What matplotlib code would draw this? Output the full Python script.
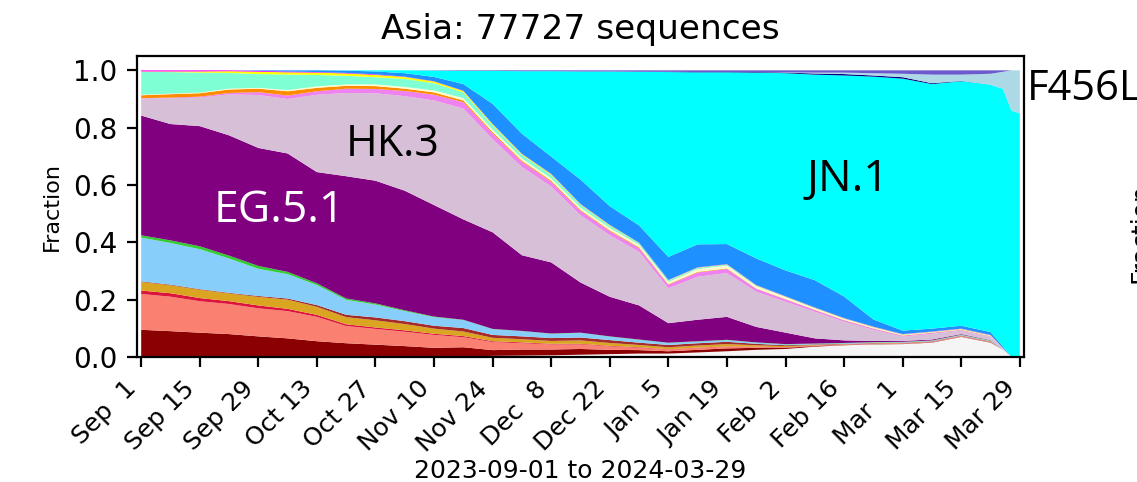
import numpy as np
import pandas as pd
import matplotlib
matplotlib.use("Agg")
import matplotlib.pyplot as plt
import matplotlib.dates as mdates

# -- DATA (fractions, weekly + a few points at the end) --
dates = list(pd.date_range("2023-09-01", "2024-03-22", freq="7D")) + \
    [pd.Timestamp("2024-03-25"), pd.Timestamp("2024-03-27"), pd.Timestamp("2024-03-29")]

other = [0.002, 0.002, 0.002, 0.002, 0.002, 0.002, 0.002, 0.002, 0.002, 0.002, 0.002, 0.002, 0.004, 0.005, 0.006, 0.008,
         0.010, 0.012, 0.012, 0.016, 0.020, 0.025, 0.028, 0.036, 0.041, 0.044, 0.045, 0.050, 0.070, 0.050, 0.025, 0.0, 0.0]
darkred = [0.093, 0.088, 0.083, 0.078, 0.070, 0.063, 0.053, 0.046, 0.041, 0.036, 0.030, 0.032, 0.020, 0.021, 0.020, 0.020,
           0.015, 0.012, 0.008, 0.009, 0.010, 0.007, 0.004, 0.002, 0.001, 0.001, 0.001, 0.001, 0.001, 0.001, 0, 0, 0]
salmon = [0.125, 0.120, 0.110, 0.105, 0.098, 0.095, 0.085, 0.060, 0.055, 0.050, 0.045, 0.035, 0.028, 0.022, 0.018, 0.016,
          0.012, 0.008, 0.006, 0.007, 0.006, 0.003, 0.001, 0.001, 0.001, 0.001, 0.001, 0.001, 0.001, 0.001, 0, 0, 0]
crimson = [0.012, 0.012, 0.011, 0.010, 0.010, 0.008, 0.007, 0.006, 0.005, 0.005, 0.004, 0.004, 0.003, 0.003, 0.002, 0.002,
           0.002, 0.002, 0.001, 0.001, 0.001, 0.001, 0.001, 0.001, 0.001, 0.001, 0.001, 0.001, 0.001, 0.001, 0, 0, 0]
goldenrod = [0.030, 0.028, 0.029, 0.027, 0.030, 0.032, 0.028, 0.025, 0.025, 0.022, 0.018, 0.016, 0.012, 0.011, 0.010, 0.012,
             0.010, 0.008, 0.007, 0.007, 0.008, 0.005, 0.004, 0.002, 0.001, 0.001, 0.001, 0.001, 0.001, 0.001, 0, 0, 0]
brown = [0.002, 0.002, 0.002, 0.002, 0.003, 0.004, 0.006, 0.008, 0.010, 0.010, 0.010, 0.012, 0.010, 0.010, 0.010, 0.010,
         0.010, 0.008, 0.008, 0.008, 0.008, 0.005, 0.003, 0.002, 0.001, 0.001, 0.001, 0.001, 0.001, 0.001, 0, 0, 0]
skyblue = [0.153, 0.145, 0.140, 0.120, 0.095, 0.085, 0.070, 0.052, 0.045, 0.035, 0.030, 0.028, 0.020, 0.018, 0.015, 0.016,
           0.012, 0.010, 0.007, 0.006, 0.006, 0.004, 0.003, 0.002, 0.002, 0.002, 0.002, 0.002, 0.002, 0.002, 0.001, 0, 0]
limegreen = [0.008, 0.009, 0.010, 0.010, 0.010, 0.008, 0.006, 0.005, 0.004, 0.003, 0.002, 0.001, 0.001, 0.001, 0.001, 0.001,
             0.001, 0.001, 0.001, 0.001, 0.001, 0.001, 0.001, 0.001, 0.001, 0.001, 0.001, 0.001, 0.001, 0.001, 0, 0, 0]
eg51 = [0.418, 0.405, 0.420, 0.420, 0.412, 0.413, 0.388, 0.426, 0.428, 0.417, 0.389, 0.350, 0.337, 0.264, 0.248, 0.175,
        0.138, 0.119, 0.068, 0.075, 0.080, 0.054, 0.040, 0.018, 0.009, 0.004, 0.003, 0.003, 0.002, 0.001, 0, 0, 0]
hk3 = [0.060, 0.090, 0.100, 0.143, 0.185, 0.190, 0.270, 0.290, 0.305, 0.330, 0.365, 0.387, 0.325, 0.308, 0.265, 0.235,
       0.215, 0.187, 0.122, 0.150, 0.153, 0.123, 0.108, 0.093, 0.065, 0.039, 0.015, 0.020, 0.012, 0.012, 0.005, 0, 0]
violet = [0.001, 0.002, 0.003, 0.005, 0.010, 0.012, 0.012, 0.015, 0.015, 0.018, 0.020, 0.022, 0.020, 0.018, 0.016, 0.015,
          0.014, 0.013, 0.012, 0.015, 0.014, 0.010, 0.008, 0.006, 0.005, 0.004, 0.003, 0.003, 0.002, 0.001, 0, 0, 0]
darkorange = [0.010, 0.012, 0.012, 0.012, 0.012, 0.015, 0.012, 0.010, 0.010, 0.008, 0.008, 0.006, 0.005, 0.004, 0.004, 0.003,
              0.003, 0.003, 0.002, 0.002, 0.002, 0.001, 0.001, 0.001, 0.001, 0.001, 0.001, 0.001, 0.001, 0.001, 0, 0, 0]
lemon = [0.002, 0.002, 0.002, 0.003, 0.003, 0.004, 0.005, 0.005, 0.006, 0.006, 0.007, 0.008, 0.008, 0.008, 0.008, 0.008,
         0.008, 0.008, 0.008, 0.010, 0.010, 0.008, 0.007, 0.005, 0.004, 0.003, 0.002, 0.001, 0.001, 0.001, 0, 0, 0]
aquamarine = [0.080, 0.075, 0.070, 0.055, 0.048, 0.054, 0.040, 0.030, 0.025, 0.028, 0.025, 0.020, 0.015, 0.012, 0.012, 0.010,
              0.008, 0.006, 0.005, 0.004, 0.003, 0.002, 0.001, 0.001, 0.001, 0.001, 0.001, 0.001, 0.001, 0.001, 0, 0, 0]
yellow = [0.001, 0.002, 0.004, 0.006, 0.008, 0.008, 0.008, 0.008, 0.008, 0.007, 0.006, 0.005, 0.004, 0.003, 0.003, 0.002,
          0.002, 0.001, 0.001, 0.001, 0.001, 0.001, 0.001, 0.001, 0.001, 0.001, 0.001, 0.001, 0.001, 0.001, 0, 0, 0]
magenta = [0.004, 0.004, 0.004, 0.003, 0.003, 0.003, 0.002, 0.002, 0.002, 0.001, 0.001, 0.001, 0.001, 0.001, 0.001, 0.001,
           0.001, 0.001, 0.001, 0.001, 0.001, 0.001, 0.001, 0.001, 0.001, 0.001, 0.001, 0.001, 0.001, 0.001, 0, 0, 0]
dodgerblue = [0, 0, 0, 0, 0.002, 0.004, 0.006, 0.008, 0.010, 0.012, 0.015, 0.023, 0.070, 0.070, 0.060, 0.085,
              0.065, 0.060, 0.080, 0.080, 0.070, 0.093, 0.090, 0.095, 0.075, 0.025, 0.012, 0.010, 0.010, 0.010, 0.005, 0, 0]
jn1 = [0, 0, 0, 0, 0, 0, 0, 0.001, 0.004, 0.010, 0.022, 0.046, 0.115, 0.218, 0.298, 0.377,
       0.470, 0.536, 0.645, 0.600, 0.599, 0.648, 0.688, 0.717, 0.771, 0.847, 0.879, 0.853, 0.853, 0.863, 0.899, 0.86, 0.85]
navy = [0, 0, 0, 0, 0, 0, 0, 0, 0, 0, 0, 0, 0, 0, 0, 0,
        0, 0, 0.001, 0.001, 0.001, 0.002, 0.002, 0.004, 0.005, 0.004, 0.005, 0.003, 0.001, 0, 0, 0, 0]
lightblue = [0, 0, 0, 0, 0, 0, 0, 0, 0, 0, 0, 0, 0, 0, 0, 0,
             0, 0, 0, 0, 0, 0, 0.001, 0.003, 0.005, 0.008, 0.012, 0.030, 0.022, 0.038, 0.060, 0.14, 0.15]
slateblue = [0, 0, 0, 0, 0, 0, 0, 0, 0, 0, 0.001, 0.002, 0.002, 0.003, 0.003, 0.004,
             0.004, 0.005, 0.005, 0.006, 0.006, 0.006, 0.007, 0.008, 0.008, 0.010, 0.012, 0.015, 0.015, 0.012, 0.005, 0, 0]

layers = [other, darkred, salmon, crimson, goldenrod, brown, skyblue, limegreen, eg51, hk3,
          violet, darkorange, lemon, aquamarine, yellow, magenta, dodgerblue, jn1, navy, lightblue, slateblue]
colors = ["whitesmoke", "darkred", "salmon", "crimson", "goldenrod", "brown", "lightskyblue", "limegreen",
          "purple", "thistle", "violet", "darkorange", "lemonchiffon", "aquamarine", "yellow", "magenta",
          "dodgerblue", "cyan", "navy", "lightblue", "slateblue"]

fractions = np.array(layers, dtype=float)
fractions = fractions / fractions.sum(axis=0)  # make each day sum to 1

fig = plt.figure(figsize=(1137 / 200, 482 / 200), dpi=200)
ax = fig.add_axes([137 / 1137, 1 - 357 / 482, 887 / 1137, 301 / 482])

ax.stackplot(dates, fractions, colors=colors, linewidth=0)

ax.set_xlim(pd.Timestamp("2023-08-31"), pd.Timestamp("2024-03-30"))
ax.set_ylim(0, 1.05)
ax.set_yticks([0, 0.2, 0.4, 0.6, 0.8, 1.0])
ax.set_xticks(pd.date_range("2023-09-01", "2024-03-29", freq="14D"))
ax.xaxis.set_major_formatter(mdates.DateFormatter("%b %e"))
plt.setp(ax.get_xticklabels(), rotation=45, ha="right")
ax.tick_params(axis="y", labelsize=10)
ax.tick_params(axis="x", labelsize=9)

ax.set_title("Asia: 77727 sequences", fontsize=12.4)
ax.set_ylabel("Fraction", fontsize=8)
ax.set_xlabel("2023-09-01 to 2024-03-29", fontsize=9, labelpad=1)

# lineage labels
lab_font = ["Open Sans", "DejaVu Sans"]
ax.text(pd.Timestamp("2023-10-04"), 0.51, "EG.5.1", color="white", fontsize=16,
        family=lab_font, ha="center", va="center")
ax.text(pd.Timestamp("2023-10-31"), 0.74, "HK.3", color="black", fontsize=15.5,
        family=lab_font, ha="center", va="center")
ax.text(pd.Timestamp("2024-02-17"), 0.62, "JN.1", color="black", fontsize=16,
        family=lab_font, ha="center", va="center")

# pieces of the neighbouring panel that show at the right edge
fig.text(1027 / 1137, 1 - 100 / 482, "F456L", fontsize=15, family=lab_font, ha="left", va="baseline")
fig.text(1128 / 1137, 1 - 233 / 482, "Fraction", fontsize=9, rotation=90, ha="left", va="center")

fig.savefig("out.png", dpi=200)
